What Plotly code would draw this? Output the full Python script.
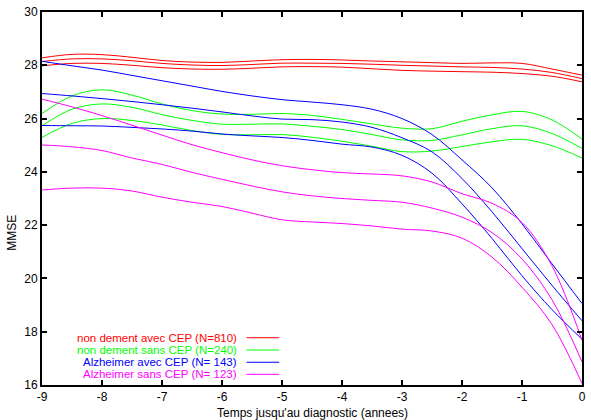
import plotly.graph_objects as go

x = [-9, -8.5, -8, -7.5, -7, -6.5, -6, -5.5, -5, -4.5, -4, -3.5, -3, -2.5, -2, -1.5, -1, -0.5, 0]

red_hi  = [28.28, 28.41, 28.40, 28.30, 28.18, 28.12, 28.11, 28.16, 28.21, 28.22, 28.20, 28.16, 28.13, 28.10, 28.07, 28.09, 28.07, 27.86, 27.63]
red_mid = [28.14, 28.24, 28.24, 28.17, 28.07, 28.01, 27.99, 28.03, 28.08, 28.08, 28.07, 28.04, 28.00, 27.97, 27.94, 27.92, 27.86, 27.73, 27.50]
red_lo  = [27.98, 28.07, 28.07, 28.00, 27.91, 27.86, 27.85, 27.89, 27.94, 27.95, 27.93, 27.87, 27.81, 27.78, 27.76, 27.74, 27.69, 27.59, 27.38]

green_hi  = [26.19, 26.85, 27.08, 26.88, 26.55, 26.30, 26.17, 26.16, 26.19, 26.12, 25.97, 25.80, 25.64, 25.62, 25.90, 26.14, 26.27, 25.95, 25.23]
green_mid = [25.73, 26.35, 26.55, 26.42, 26.15, 25.93, 25.79, 25.79, 25.80, 25.71, 25.59, 25.40, 25.20, 25.18, 25.39, 25.62, 25.73, 25.44, 24.88]
green_lo  = [25.29, 25.82, 26.00, 25.93, 25.76, 25.55, 25.41, 25.39, 25.40, 25.30, 25.15, 24.96, 24.76, 24.78, 24.95, 25.13, 25.22, 24.98, 24.52]

blue_hi  = [28.15, 27.98, 27.82, 27.62, 27.42, 27.22, 27.02, 26.85, 26.71, 26.62, 26.52, 26.35, 26.00, 25.40, 24.45, 23.40, 22.05, 20.55, 19.06]
blue_mid = [26.94, 26.85, 26.75, 26.64, 26.52, 26.39, 26.25, 26.10, 25.98, 25.96, 25.87, 25.67, 25.28, 24.75, 23.75, 22.50, 21.12, 19.74, 18.41]
blue_lo  = [25.74, 25.73, 25.72, 25.67, 25.61, 25.53, 25.42, 25.35, 25.29, 25.18, 25.04, 24.93, 24.62, 23.95, 22.80, 21.50, 20.10, 18.83, 17.72]

mag_hi  = [26.73, 26.44, 26.11, 25.75, 25.38, 25.02, 24.72, 24.45, 24.23, 24.08, 23.97, 23.92, 23.85, 23.62, 23.18, 22.82, 22.10, 20.47, 17.68]
mag_mid = [25.01, 24.94, 24.80, 24.52, 24.28, 23.98, 23.72, 23.47, 23.25, 23.10, 23.00, 22.93, 22.86, 22.64, 22.30, 21.72, 20.73, 19.20, 16.87]
mag_lo  = [23.32, 23.39, 23.39, 23.28, 23.05, 22.86, 22.70, 22.45, 22.20, 22.12, 22.06, 21.97, 21.85, 21.78, 21.51, 20.80, 19.67, 18.27, 16.06]

legend_labels = ["non dement avec CEP (N=810)", "non dement sans CEP (N=240)",
                 "Alzheimer avec CEP (N= 143)", "Alzheimer sans CEP (N= 123)"]
colors = ["#ff0000", "#00ff00", "#0000ff", "#ff00ff"]
groups = [(red_hi, red_mid, red_lo), (green_hi, green_mid, green_lo),
          (blue_hi, blue_mid, blue_lo), (mag_hi, mag_mid, mag_lo)]

x_ticks = [-9, -8, -7, -6, -5, -4, -3, -2, -1, 0]
y_ticks = [16, 18, 20, 22, 24, 26, 28, 30]

FONT = "Liberation Sans, Arial, sans-serif"

fig = go.Figure()
for col, grp in zip(colors, groups):
    for ys in grp:
        fig.add_trace(go.Scatter(x=x, y=ys, mode="lines",
                                 line=dict(color=col, width=1, shape="spline", smoothing=1.0),
                                 showlegend=False, hoverinfo="skip"))

# legend (text left of sample line, right-aligned)
row_y = [337.6, 349.9, 362.2, 374.3]
plot_top, plot_bot, plot_left, plot_right = 11, 385, 42, 586
for lab, col, py in zip(legend_labels, colors, row_y):
    yp = (plot_bot - py) / (plot_bot - plot_top)
    fig.add_annotation(x=(240 - plot_left) / (plot_right - plot_left), y=yp, xref="paper", yref="paper",
                       text=lab, showarrow=False, xanchor="right", yanchor="middle",
                       font=dict(family=FONT, size=11.5, color=col))
    fig.add_shape(type="line", xref="paper", yref="paper",
                  x0=(248 - plot_left) / (plot_right - plot_left), x1=(281 - plot_left) / (plot_right - plot_left),
                  y0=yp, y1=yp, line=dict(color=col, width=1))

fig.add_annotation(x=0.5, y=(plot_bot - 413) / (plot_bot - plot_top), xref="paper", yref="paper",
                   text="Temps jusqu'au diagnostic (annees)", showarrow=False,
                   xanchor="center", yanchor="middle", font=dict(family=FONT, size=12, color="black"))
fig.add_annotation(x=(12 - plot_left) / (plot_right - plot_left), y=(plot_bot - 232) / (plot_bot - plot_top),
                   xref="paper", yref="paper", text="MMSE", textangle=-90, showarrow=False,
                   xanchor="center", yanchor="middle", font=dict(family=FONT, size=12, color="black"))

fig.update_layout(
    width=591, height=420,
    margin=dict(l=plot_left, r=591 - plot_right, t=plot_top, b=420 - plot_bot),
    paper_bgcolor="white", plot_bgcolor="white",
    font=dict(family=FONT, size=12, color="black"),
)
fig.update_xaxes(range=[-9, 0], tickvals=x_ticks, ticktext=[str(v) for v in x_ticks],
                 showgrid=False, zeroline=False, showline=True, linecolor="black", linewidth=2,
                 mirror="ticks", ticks="inside", ticklen=5, tickwidth=1.5, tickcolor="black")
fig.update_yaxes(range=[16, 30], tickvals=y_ticks, ticktext=[str(v) for v in y_ticks],
                 showgrid=False, zeroline=False, showline=True, linecolor="black", linewidth=2,
                 mirror="ticks", ticks="inside", ticklen=5, tickwidth=1.5, tickcolor="black")

fig.write_html("out.html")
